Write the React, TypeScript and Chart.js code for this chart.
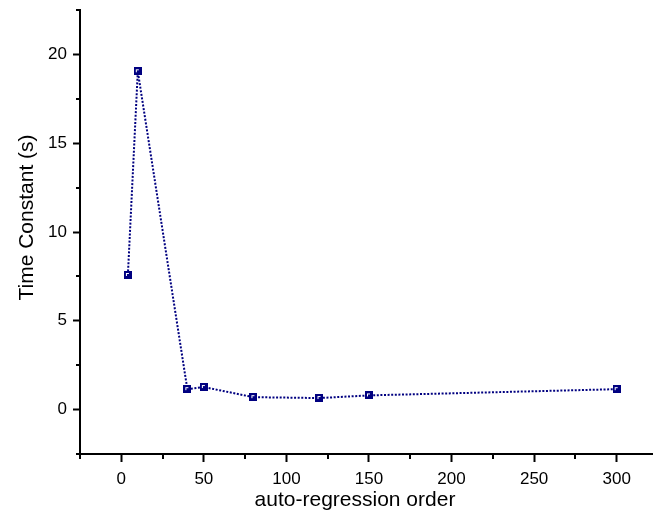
import React, { useEffect, useRef } from "react";
import { Chart, registerables } from "chart.js";

Chart.register(...registerables);

const orders = [4, 10, 40, 50, 80, 120, 150, 300];
const timeConstants = [7.58, 19.05, 1.15, 1.27, 0.7, 0.65, 0.8, 1.15];

const xMajorTicks = [0, 50, 100, 150, 200, 250, 300];
const xMinorTicks = [-25, 25, 75, 125, 175, 225, 275];
const yMajorTicks = [0, 5, 10, 15, 20];
const yMinorTicks = [-2.5, 2.5, 7.5, 12.5, 17.5, 22.5];

const xTitle = "auto-regression order";
const yTitle = "Time Constant (s)";

const FONT = "'Liberation Sans', Arial, Helvetica, sans-serif";
const NAVY = "#000080";

function makeMarker(): HTMLCanvasElement {
  const c = document.createElement("canvas");
  c.width = 8;
  c.height = 8;
  const g = c.getContext("2d")!;
  g.fillStyle = NAVY;
  g.fillRect(0, 0, 8, 8);
  g.fillStyle = "#ffffff";
  g.fillRect(2, 2, 3, 1);
  g.fillRect(2, 2, 1, 3);
  return c;
}

const extrasPlugin = {
  id: "extras",
  afterDraw(chart: any) {
    const ctx = chart.ctx;
    const xs = chart.scales.x;
    const ys = chart.scales.y;
    const area = chart.chartArea;
    ctx.save();
    ctx.strokeStyle = "#000";
    ctx.lineWidth = 2;
    ctx.beginPath();
    for (const v of xMinorTicks) {
      const px = Math.round(xs.getPixelForValue(v));
      ctx.moveTo(px, area.bottom);
      ctx.lineTo(px, area.bottom + 5);
    }
    for (const v of yMinorTicks) {
      const py = Math.round(ys.getPixelForValue(v));
      ctx.moveTo(area.left, py);
      ctx.lineTo(area.left - 4, py);
    }
    ctx.stroke();

    ctx.fillStyle = "#000";
    ctx.font = `21px ${FONT}`;
    ctx.textAlign = "center";
    ctx.textBaseline = "alphabetic";
    ctx.fillText(xTitle, 355, 506);
    ctx.translate(33, 217.5);
    ctx.rotate(-Math.PI / 2);
    ctx.fillText(yTitle, 0, 0);
    ctx.restore();
  },
};

export default function App() {
  const ref = useRef<HTMLCanvasElement | null>(null);

  useEffect(() => {
    document.body.style.margin = "0";
    const canvas = ref.current!;
    const marker = makeMarker();
    const chart = new Chart(canvas, {
      type: "line",
      data: {
        datasets: [
          {
            data: orders.map((x, i) => ({ x, y: timeConstants[i] })),
            borderColor: NAVY,
            borderWidth: 2,
            borderDash: [2, 1.6],
            tension: 0,
            pointStyle: marker as any,
            pointRadius: 4,
            pointHoverRadius: 4,
            fill: false,
          },
        ],
      },
      options: {
        animation: false,
        responsive: false,
        events: [],
        layout: { autoPadding: false, padding: { top: 10, left: 0, right: 0, bottom: 0 } },
        plugins: { legend: { display: false }, tooltip: { enabled: false }, title: { display: false } },
        scales: {
          x: {
            type: "linear",
            position: "bottom",
            min: -25,
            max: 322,
            afterBuildTicks: (s: any) => {
              s.ticks = xMajorTicks.map((v) => ({ value: v }));
            },
            afterFit: (s: any) => {
              s.height = 62;
            },
            ticks: {
              color: "#000",
              font: { family: FONT, size: 17 },
              padding: 7,
              maxRotation: 0,
              autoSkip: false,
            },
            grid: {
              display: true,
              drawOnChartArea: false,
              drawTicks: true,
              tickLength: 8,
              tickWidth: 2,
              tickColor: "#000",
            },
            border: { display: true, color: "#000", width: 2 },
          },
          y: {
            type: "linear",
            position: "left",
            min: -2.5,
            max: 22.5,
            afterBuildTicks: (s: any) => {
              s.ticks = yMajorTicks.map((v) => ({ value: v }));
            },
            afterFit: (s: any) => {
              s.width = 80;
              s.paddingTop = 0;
              s.paddingBottom = 0;
            },
            ticks: {
              color: "#000",
              font: { family: FONT, size: 17 },
              padding: 6,
              autoSkip: false,
            },
            grid: {
              display: true,
              drawOnChartArea: false,
              drawTicks: true,
              tickLength: 7,
              tickWidth: 2,
              tickColor: "#000",
            },
            border: { display: true, color: "#000", width: 2 },
          },
        },
      },
      plugins: [extrasPlugin],
    });
    return () => chart.destroy();
  }, []);

  return (
    <div style={{ width: 653, height: 516 }}>
      <canvas ref={ref} width={653} height={516} style={{ display: "block", width: 653, height: 516 }} />
    </div>
  );
}
